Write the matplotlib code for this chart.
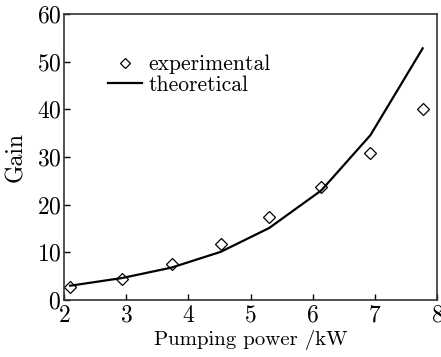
import matplotlib
matplotlib.use("Agg")
import matplotlib.pyplot as plt

# values
exp_power = [2.1, 2.93, 3.73, 4.52, 5.30, 6.14, 6.93, 7.77]
exp_gain = [2.8, 4.4, 7.6, 11.8, 17.5, 23.8, 30.9, 40.0]
theo_power = [2.1, 2.93, 3.73, 4.52, 5.30, 6.14, 6.93, 7.77]
theo_gain = [3.0, 4.6, 6.8, 10.1, 15.1, 23.0, 34.6, 52.8]

plt.rcParams['font.family'] = ['cmr10', 'DejaVu Serif']
plt.rcParams['axes.formatter.use_mathtext'] = True

fig = plt.figure(figsize=(4.41, 3.57), dpi=100)
ax = fig.add_axes([64/441, 1-300/357, (437-64)/441, (300-14)/357])

ax.plot(exp_power, exp_gain, linestyle='none', marker='D', markersize=6,
        markerfacecolor='white', markeredgecolor='black', markeredgewidth=0.9,
        label='experimental')
ax.plot(theo_power, theo_gain, color='black', linewidth=1.6, label='theoretical')

ax.set_xlim(2, 8)
ax.set_ylim(0, 60)
ax.set_xticks([2, 3, 4, 5, 6, 7, 8])
ax.set_yticks([0, 10, 20, 30, 40, 50, 60])
ax.tick_params(direction='in', length=4, width=1, labelsize=17, pad=2,
               top=False, right=False)
ax.tick_params(axis='x', pad=3.5)
for s in ax.spines.values():
    s.set_linewidth(1.2)
    s.set_color('#333333')

ax.set_xlabel('Pumping power /kW', fontsize=15, labelpad=2)
ax.set_ylabel('Gain', fontsize=17, labelpad=7)

ax.legend(loc='upper left', bbox_to_anchor=(0.094, 0.888), frameon=False,
          fontsize=15.5, handlelength=1.6, handletextpad=0.3, labelspacing=0.05,
          borderaxespad=0, markerscale=0.85)

fig.savefig('out.png', dpi=100)
